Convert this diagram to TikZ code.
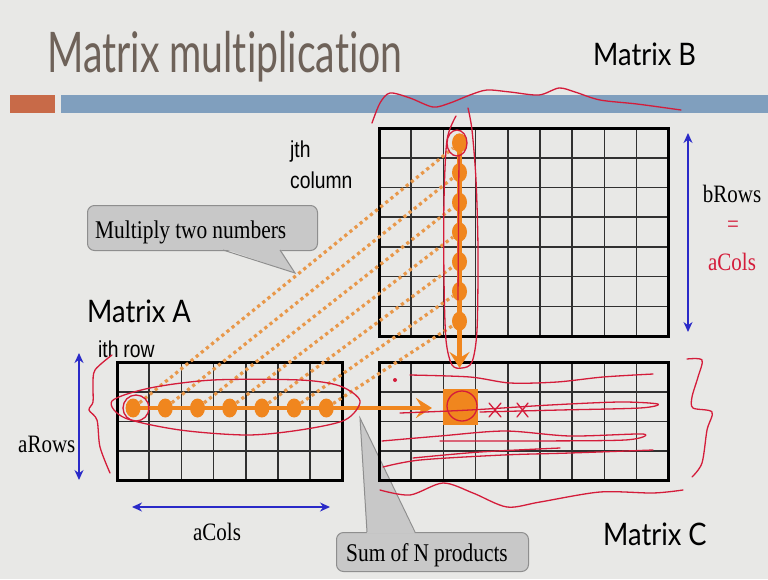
\documentclass[tikz,border=0pt]{standalone}
\usepackage{fontspec}
\setmainfont{Liberation Serif}
\newfontfamily\titlefont[FakeStretch=0.7,Ligatures=CommonOff]{Lato}
\newfontfamily\matfont[FakeStretch=0.88,Ligatures=CommonOff]{Lato}
\newfontfamily\armfont[FakeStretch=0.84,WordSpace=0.9]{Liberation Sans}
\newfontfamily\tnrfont[FakeStretch=0.84,WordSpace=0.95]{Liberation Serif}
\usetikzlibrary{arrows.meta,shapes.geometric}

\definecolor{slidebg}{HTML}{E8E8E6}
\definecolor{titlegray}{HTML}{6E6259}
\definecolor{barorange}{HTML}{C86A48}
\definecolor{barblue}{HTML}{809FBE}
\definecolor{dotorange}{HTML}{F0861E}
\definecolor{dotline}{HTML}{E8984A}
\definecolor{penred}{HTML}{D41C3A}
\definecolor{arrowblue}{HTML}{2A2AC8}
\definecolor{callgray}{HTML}{C8C8C8}
\definecolor{callline}{HTML}{8E8E8E}
\definecolor{gridgray}{HTML}{303030}

\newcommand\cw{32.2}
\newcommand\rh{29.72}
% grid of a matrix: x, y of top left corner, columns, rows
\newcommand\matgrid[4]{%
  \foreach \i in {0,...,#3} \draw[cellline] ({#1+\i*\cw},#2) -- ++(0,{#4*\rh});
  \foreach \j in {0,...,#4} \draw[cellline] (#1,{#2+\j*\rh}) -- ++({#3*\cw},0);
  \draw[matframe] (#1,#2) rectangle ++({#3*\cw},{#4*\rh});}

\begin{document}
\begin{tikzpicture}[x=1pt,y=-1pt,
  matframe/.style={draw=black,line width=3pt},
  cellline/.style={draw=gridgray,line width=1.6pt},
  ordot/.style={ellipse,fill=dotorange,minimum width=15pt,minimum height=19pt,inner sep=0pt},
  prodline/.style={draw=dotline,line width=3.2pt,dash pattern=on 3.2pt off 3.4pt},
  sumline/.style={draw=dotorange,line width=4.5pt,-{Stealth[length=16pt,width=20pt,inset=6pt]}},
  sizearrow/.style={draw=arrowblue,line width=1.3pt,{Stealth[length=10pt,width=9pt]}-{Stealth[length=10pt,width=9pt]}},
  pen/.style={draw=penred,line width=1.3pt,line cap=round,line join=round},
  bubble/.style={fill=callgray,draw=callline,line width=1pt,rounded corners=7pt,anchor=north west,inner sep=0pt},
  bubbletext/.style={anchor=base west,inner sep=0pt,font=\tnrfont\fontsize{25.5}{30}\selectfont},
  matlabel/.style={anchor=base west,inner sep=0pt,font=\matfont\fontsize{31}{36}\selectfont},
  sanslabel/.style={anchor=base west,inner sep=0pt,font=\armfont\fontsize{23}{27}\selectfont},
  serlabel/.style={anchor=base,inner sep=0pt,font=\tnrfont\fontsize{25}{30}\selectfont}]
\useasboundingbox (0,0) rectangle (768,579);
\fill[slidebg] (0,0) rectangle (768,579);

% title and bar
\node[anchor=base west,inner sep=0pt,text=titlegray,font=\titlefont\fontsize{56}{60}\selectfont] (title) at (47,72) {Matrix multiplication};
\fill[barorange] (10,95) rectangle (55,113);
\fill[barblue] (61,95) rectangle (768,113);

% callouts
\node[bubble,minimum width=230pt,minimum height=45pt] (mulbox) at (87,205) {};
\coordinate (multip) at (295,273);
\fill[callgray] (223,248.5) -- (multip) -- (280,248.5) -- cycle;
\draw[callline,line width=1pt] (223,250) -- (multip) -- (280,250);
\node[bubbletext] (multext) at (95,238) {Multiply two numbers};

\node[bubble,minimum width=192pt,minimum height=39pt] (sumbox) at (336,532) {};
\coordinate (sumtip) at (360,418);
\fill[callgray] (367,533.5) -- (sumtip) -- (415,533.5) -- cycle;
\draw[callline,line width=1pt] (367,532) -- (sumtip) -- (415,532);
\node[bubbletext] (sumtext) at (346,561) {Sum of N products};

% matrices
\matgrid{379}{128}{9}{7}
\matgrid{117}{362}{7}{4}
\matgrid{379}{362}{9}{4}

\node[matlabel] (labB) at (593,65) {Matrix B};
\node[matlabel] (labA) at (87,322) {Matrix A};
\node[matlabel] (labC) at (603,545) {Matrix C};

\node[sanslabel] (jth) at (290,157) {jth};
\node[sanslabel] (jcol) at (290,188) {column};
\node[sanslabel] (ith) at (98,357) {ith row};

% row of A and column of B
\foreach \k in {1,...,7} \node[ordot] (a\k) at ({117+(\k-0.5)*\cw},408) {};
\foreach \k in {1,...,7} \node[ordot] (b\k) at (459.5,{128+(\k-0.5)*\rh}) {};
\foreach \k in {1,...,7} \draw[prodline] (a\k) -- (b\k);

\node[fill=dotorange,minimum width=35pt,minimum height=36pt,inner sep=0pt] (cij) at (460.5,407) {};
\coordinate (cin) at (432,408);
\coordinate (cdown) at (459.5,368);
\draw[sumline] (a1.center) -- (cin);
\draw[sumline] (b1.center) -- (cdown);

% sizes
\coordinate (arTop) at (79,353);
\coordinate (arBot) at (79,480);
\coordinate (acL) at (132,507);
\coordinate (acR) at (330,507);
\coordinate (brTop) at (688,133);
\coordinate (brBot) at (688,332);
\draw[sizearrow] (arTop) -- (arBot);
\draw[sizearrow] (acL) -- (acR);
\draw[sizearrow] (brTop) -- (brBot);
\node[serlabel,anchor=base west] (arows) at (18,452) {aRows};
\node[serlabel] (acols) at (217,540) {aCols};
\node[serlabel] (brows) at (732,202) {bRows};
\node[serlabel,text=penred,anchor=center] (eqs) at (733,227) {=};
\node[serlabel,text=penred] (acolsb) at (732,270) {aCols};

% pen marks
\draw[pen] plot[smooth] coordinates {(372,123) (380,103) (390,93) (410,98) (433,107) (450,103) (470,95) (487,90) (510,92) (539,95) (559,88) (575,92) (600,100) (637,104) (681,110)};
\draw[pen] plot[smooth] coordinates {(456,116) (447,140) (444,200) (444,280) (446,340) (452,365) (462,368) (472,362) (477,330) (478,250) (476,180) (472,130) (468,108)};
\draw[pen] (457,143) ellipse (10 and 13);
\draw[pen] (459,155) -- (458,300);
\draw[pen] plot[smooth cycle] coordinates {(112,401) (150,388) (213,380) (300,380) (340,386) (360,401) (345,420) (300,430) (247,435) (180,430) (125,418)};
\draw[pen] (136,408) circle (13);
\draw[pen] plot[smooth] coordinates {(112,355) (95,370) (93,385) (93,402) (89,410) (97,420) (100,447) (110,473)};
\draw[pen] plot[smooth] coordinates {(687,359) (702,360) (698,377) (692,397) (693,408) (712,412) (707,430) (702,463) (692,477)};
\draw[pen] plot[smooth] coordinates {(380,490) (410,495) (443,483) (473,493) (507,507) (540,502) (600,492) (653,493) (683,490)};
\fill[penred] (395,380) circle (2);
\draw[pen] (462,406) circle (15);
\draw[pen] (489,403) -- (501,417) (489,417) -- (501,403);
\draw[pen] (517,403) -- (528,417) (517,417) -- (528,403);
\draw[pen] plot[smooth] coordinates {(410,375) (470,377) (510,383) (557,382) (603,377) (653,374)};
\draw[pen] plot[smooth] coordinates {(400,413) (470,410) (550,405) (620,402) (658,404) (640,408) (560,410) (480,412)};
\draw[pen] plot[smooth] coordinates {(382,441) (440,436) (505,431) (570,436) (643,434) (625,440) (520,441) (440,441)};
\draw[pen] plot[smooth] coordinates {(383,467) (420,460) (503,455) (570,453) (653,450)};
\draw[pen] plot[smooth] coordinates {(413,458) (480,452) (560,448)};
\end{tikzpicture}
\end{document}
